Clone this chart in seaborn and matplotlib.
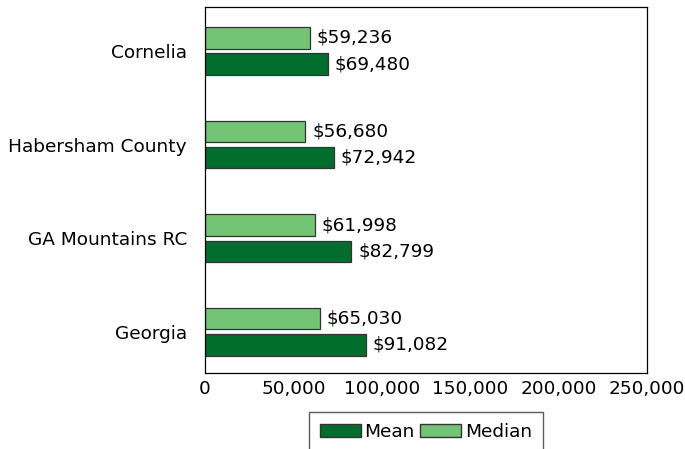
import pandas as pd
import matplotlib.pyplot as plt
import seaborn as sns
from matplotlib.patches import Patch

places = ['Cornelia', 'Habersham County', 'GA Mountains RC', 'Georgia']
mean_income = [69480, 72942, 82799, 91082]
median_income = [59236, 56680, 61998, 65030]

dark_green = '#006d2c'
light_green = '#74c476'

df = pd.DataFrame({
    'place': places * 2,
    'income': median_income + mean_income,
    'stat': ['Median'] * len(places) + ['Mean'] * len(places),
})

sns.set_style('white')
plt.rcParams['font.family'] = ['DejaVu Sans']
plt.rcParams['text.color'] = 'black'
plt.rcParams['xtick.color'] = 'black'
plt.rcParams['ytick.color'] = 'black'

fs = 13.3

fig = plt.figure(figsize=(6.85, 4.49), dpi=100)
ax = fig.add_axes([205 / 685, 1 - 373 / 449, 442 / 685, 366 / 449])

sns.barplot(data=df, y='place', x='income', hue='stat', order=places,
            hue_order=['Median', 'Mean'], palette=[light_green, dark_green],
            saturation=1, orient='h', width=0.56, gap=0.18, edgecolor='#333333',
            linewidth=0.9, legend=False, ax=ax)

for cont in ax.containers:
    ax.bar_label(cont, labels=[f'${v:,.0f}' for v in cont.datavalues],
                 padding=5, fontsize=fs, color='black')

ax.set_xlim(0, 250000)
ax.set_ylim(len(places) - 0.56, -0.47)
ax.set_xticks([0, 50000, 100000, 150000, 200000, 250000])
ax.set_xticklabels(['0', '50,000', '100,000', '150,000', '200,000', '250,000'])
ax.tick_params(axis='x', labelsize=fs, length=0, pad=5)
ax.tick_params(axis='y', labelsize=fs, length=0, pad=13)
ax.set_xlabel('')
ax.set_ylabel('')
for s in ax.spines.values():
    s.set_visible(True)
    s.set_color('black')
    s.set_linewidth(0.9)

handles = [Patch(facecolor=dark_green, edgecolor='#333333', label='Mean'),
           Patch(facecolor=light_green, edgecolor='#333333', label='Median')]
fig.legend(handles=handles, loc='upper center', bbox_to_anchor=(426 / 685, 1 - 403 / 449),
           ncol=2, frameon=True, fancybox=False, edgecolor='#333333', fontsize=fs,
           handlelength=2.2, handleheight=0.7, handletextpad=0.2, columnspacing=0.3,
           borderpad=0.6)

fig.savefig('out.png', dpi=100)
